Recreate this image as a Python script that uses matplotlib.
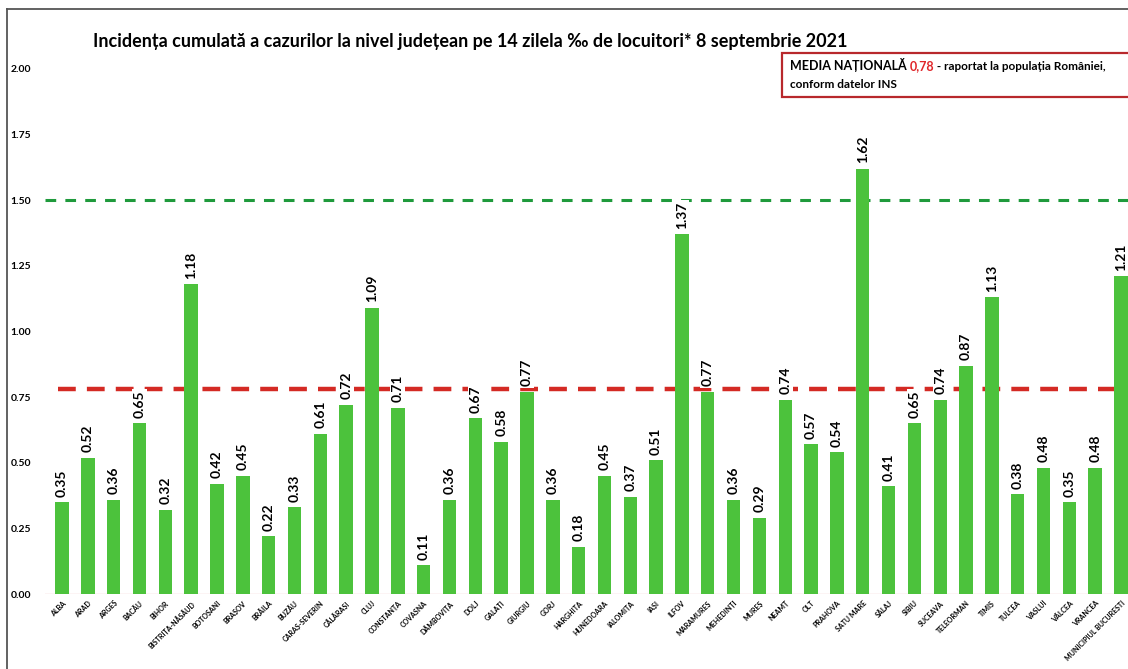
import matplotlib

matplotlib.use("Agg")
import matplotlib.pyplot as plt
from matplotlib.lines import Line2D
from matplotlib.patches import Rectangle
from matplotlib.text import Annotation

plt.rcParams["font.family"] = ["Lato", "DejaVu Sans"]

judete = [
    "ALBA", "ARAD", "ARGEȘ", "BACĂU", "BIHOR", "BISTRIȚA-NĂSĂUD", "BOTOȘANI",
    "BRAȘOV", "BRĂILA", "BUZĂU", "CARAȘ-SEVERIN", "CĂLĂRAȘI", "CLUJ",
    "CONSTANȚA", "COVASNA", "DÂMBOVIȚA", "DOLJ", "GALAȚI", "GIURGIU", "GORJ",
    "HARGHITA", "HUNEDOARA", "IALOMIȚA", "IAȘI", "ILFOV", "MARAMUREȘ",
    "MEHEDINȚI", "MUREȘ", "NEAMȚ", "OLT", "PRAHOVA", "SATU MARE", "SĂLAJ",
    "SIBIU", "SUCEAVA", "TELEORMAN", "TIMIȘ", "TULCEA", "VASLUI", "VÂLCEA",
    "VRANCEA", "MUNICIPIUL BUCUREȘTI",
]
incidenta = [
    0.35, 0.52, 0.36, 0.65, 0.32, 1.18, 0.42, 0.45, 0.22, 0.33, 0.61, 0.72,
    1.09, 0.71, 0.11, 0.36, 0.67, 0.58, 0.77, 0.36, 0.18, 0.45, 0.37, 0.51,
    1.37, 0.77, 0.36, 0.29, 0.74, 0.57, 0.54, 1.62, 0.41, 0.65, 0.74, 0.87,
    1.13, 0.38, 0.48, 0.35, 0.48, 1.21,
]
media_nationala = 0.78
prag = 1.50
y_ticks = [0.00, 0.25, 0.50, 0.75, 1.00, 1.25, 1.50, 1.75, 2.00]

W, H = 1128, 669
fig = plt.figure(figsize=(W / 100, H / 100), dpi=100)
ax = fig.add_axes([45 / W, 75 / H, 1 - 45 / W, (594 - 69) / H])

x = range(len(judete))
ax.bar(x, incidenta, width=0.52, color="#4cc23c", zorder=2)

ax.axhline(prag, color="#1f9a3c", linestyle=(0, (3.5, 3)), linewidth=2.2, zorder=1)
ax.axhline(media_nationala, xmin=0.012, color="#d42a24",
           linestyle=(0, (4, 2.5)), linewidth=3.2, zorder=1)
ax.axhline(0, color="#f0c8c8", linewidth=1, zorder=1)

for xi, v in zip(x, incidenta):
    ax.annotate(f"{v:.2f}", (xi, v), xytext=(0, 4), textcoords="offset points",
                rotation=90, ha="center", va="bottom", fontsize=10,
                fontweight="bold", zorder=3,
                bbox=dict(boxstyle="square,pad=0.1", fc="white", ec="none"))

ax.set_xlim(-0.66, 41.27)
ax.set_ylim(0, 2.0)
ax.set_yticks(y_ticks)
ax.set_yticklabels([f"{t:.2f}" for t in y_ticks], fontsize=7.5, fontweight="bold")
ax.set_xticks(list(x))
ax.set_xticklabels(judete, rotation=45, ha="right", rotation_mode="anchor",
                   fontsize=5, fontweight="bold")
ax.tick_params(length=0, pad=4)
ax.tick_params(axis="y", pad=10)
for s in ax.spines.values():
    s.set_visible(False)

fig.text(470 / W, 1 - 42 / H,
         "Incidența cumulată a cazurilor la nivel județean pe 14 zilela ‰ de locuitori* 8 septembrie 2021",
         ha="center", va="center", fontsize=13, fontweight="bold")

# outer frame of the original screenshot
fig.add_artist(Line2D([7 / W, 7 / W], [0, 1 - 9 / H], transform=fig.transFigure,
                      color="#555555", lw=1.3))
fig.add_artist(Line2D([7 / W, 1], [1 - 9 / H, 1 - 9 / H], transform=fig.transFigure,
                      color="#555555", lw=1.3))

# box with the national average
fig.add_artist(Rectangle((782 / W, 1 - 97 / H), 350 / W, 44 / H,
                         transform=fig.transFigure, fc="white", ec="#b8282c", lw=1.6,
                         zorder=5))
t1 = fig.text(790 / W, 1 - 70 / H, "MEDIA NAȚIONALĂ ", fontsize=9,
              fontweight="bold", va="baseline", zorder=6)
a2 = fig.add_artist(Annotation("0,78", xy=(1, 0), xycoords=t1, va="bottom",
                               fontsize=9, fontweight="bold", color="#e0262a",
                               zorder=6))
a3 = fig.add_artist(Annotation(" - raportat la populația României,", xy=(1, 0),
                               xycoords=a2, va="bottom", fontsize=8.5,
                               fontweight="bold", zorder=6))
fig.text(790 / W, 1 - 88 / H, "conform datelor INS", fontsize=8.5,
         fontweight="bold", va="baseline", zorder=6)

fig.savefig("out.png", dpi=100)
